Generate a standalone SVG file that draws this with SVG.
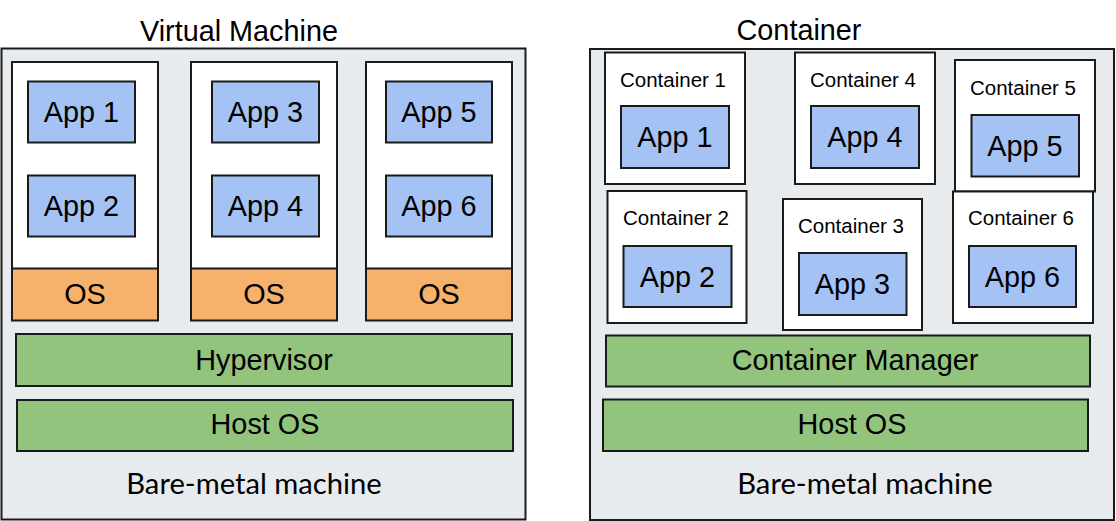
<svg xmlns="http://www.w3.org/2000/svg" width="1116" height="521" viewBox="0 0 1116 521">
<style>
rect{stroke:#1a1a1a;stroke-width:2}
.outer{fill:#e8ebed}
.vm,.ct{fill:#ffffff}
.app{fill:#a4c2f4}
.os{fill:#f6b26b}
.layer{fill:#93c47d}
text{font-family:"Liberation Sans",Arial,sans-serif;fill:#000;text-anchor:middle}
.big{font-size:28.8px}
.small{font-size:20.5px}
.bm{font-family:Lato,"Liberation Sans",sans-serif;font-size:29.2px}
</style>
<rect width="1116" height="521" fill="#fff" style="stroke:none"/>
<g id="vm-side">
<text class="big" x="239" y="41">Virtual Machine</text>
<g id="vm-outer"><rect class="outer" x="1.5" y="48.5" width="524" height="471"/></g>
<g id="vm1">
<rect class="vm" x="12" y="62" width="146" height="207"/>
<g id="vm1-app1"><rect class="app" x="28" y="81.5" width="107" height="61"/><text class="big" x="81.5" y="122">App 1</text></g>
<g id="vm1-app2"><rect class="app" x="28" y="175.5" width="107" height="61"/><text class="big" x="81.5" y="216">App 2</text></g>
<g id="vm1-os"><rect class="os" x="12" y="268.5" width="146" height="52"/><text class="big" x="85" y="303.5">OS</text></g>
</g>
<g id="vm2">
<rect class="vm" x="191" y="62" width="146" height="207"/>
<g id="vm2-app3"><rect class="app" x="212" y="81.5" width="107" height="61"/><text class="big" x="265.5" y="122">App 3</text></g>
<g id="vm2-app4"><rect class="app" x="212" y="175.5" width="107" height="61"/><text class="big" x="265.5" y="216">App 4</text></g>
<g id="vm2-os"><rect class="os" x="191" y="268.5" width="146" height="52"/><text class="big" x="264" y="303.5">OS</text></g>
</g>
<g id="vm3">
<rect class="vm" x="366" y="62" width="146" height="207"/>
<g id="vm3-app5"><rect class="app" x="386" y="81.5" width="106" height="61"/><text class="big" x="439" y="122">App 5</text></g>
<g id="vm3-app6"><rect class="app" x="386" y="175.5" width="106" height="61"/><text class="big" x="439" y="216">App 6</text></g>
<g id="vm3-os"><rect class="os" x="366" y="268.5" width="146" height="52"/><text class="big" x="439" y="303.5">OS</text></g>
</g>
<g id="hypervisor"><rect class="layer" x="16" y="334" width="496" height="52"/><text class="big" x="264" y="370">Hypervisor</text></g>
<g id="vm-hostos"><rect class="layer" x="17" y="400" width="496" height="51"/><text class="big" x="265" y="434">Host OS</text></g>
<text class="bm" x="254" y="494">Bare-metal machine</text>
</g>
<g id="container-side">
<text class="big" x="799" y="40">Container</text>
<g id="ct-outer"><rect class="outer" x="590" y="49" width="524" height="471"/></g>
<g id="c1"><rect class="ct" x="605" y="52.5" width="140" height="131.5"/><text class="small" x="673" y="87">Container 1</text>
<rect class="app" x="621" y="106" width="108" height="62"/><text class="big" x="675" y="147">App 1</text></g>
<g id="c4"><rect class="ct" x="795" y="52.5" width="140" height="131.5"/><text class="small" x="863" y="87">Container 4</text>
<rect class="app" x="811" y="106" width="108" height="62"/><text class="big" x="865" y="147">App 4</text></g>
<g id="c5"><rect class="ct" x="955" y="60" width="140" height="131.5"/><text class="small" x="1023" y="94.5">Container 5</text>
<rect class="app" x="971.5" y="115" width="107.5" height="61.5"/><text class="big" x="1025" y="156">App 5</text></g>
<g id="c2"><rect class="ct" x="607.5" y="191" width="139" height="132"/><text class="small" x="676" y="225">Container 2</text>
<rect class="app" x="623.5" y="246" width="108" height="61"/><text class="big" x="677.5" y="286.5">App 2</text></g>
<g id="c3"><rect class="ct" x="783" y="199" width="139" height="131"/><text class="small" x="851" y="233">Container 3</text>
<rect class="app" x="799" y="253" width="107.5" height="62"/><text class="big" x="852.5" y="294">App 3</text></g>
<g id="c6"><rect class="ct" x="953" y="191.5" width="140" height="131.5"/><text class="small" x="1021" y="225">Container 6</text>
<rect class="app" x="969" y="246" width="107" height="61"/><text class="big" x="1022.5" y="286.5">App 6</text></g>
<g id="container-manager"><rect class="layer" x="606" y="335.5" width="484" height="51"/><text class="big" x="855" y="370">Container Manager</text></g>
<g id="ct-hostos"><rect class="layer" x="603" y="399.5" width="485" height="51.5"/><text class="big" x="852" y="434">Host OS</text></g>
<text class="bm" x="865" y="494">Bare-metal machine</text>
</g>
<g id="connectors"></g>
</svg>
